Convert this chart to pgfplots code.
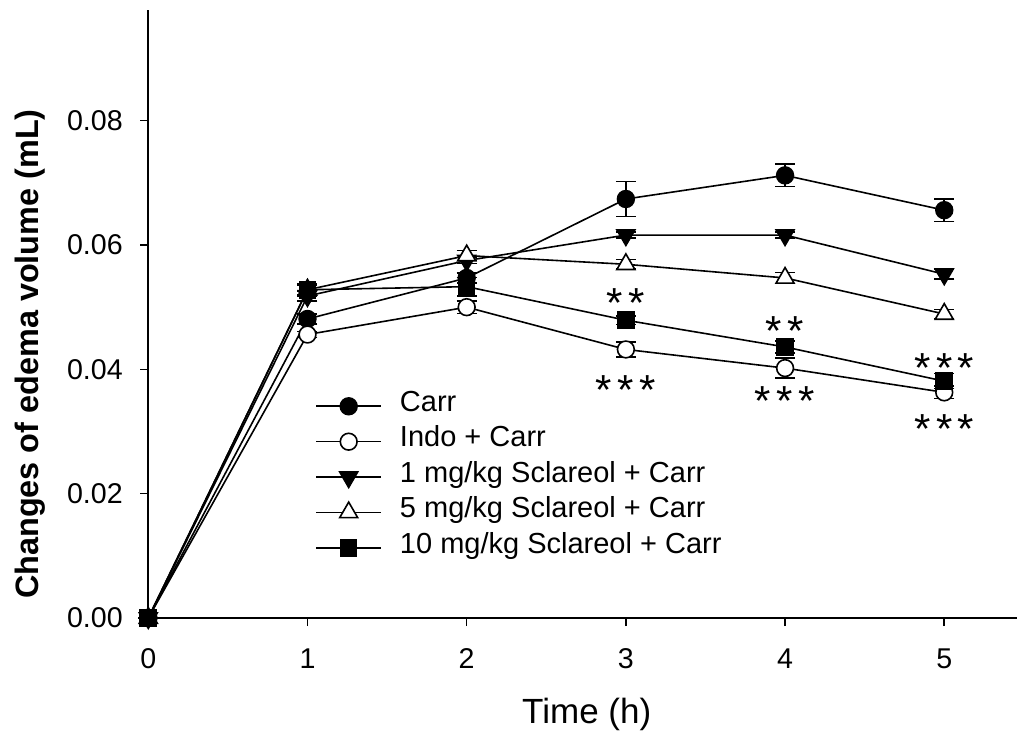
\documentclass[border=0pt]{standalone}
\usepackage{pgfplots}
\pgfplotsset{compat=1.18}
\usepackage{fontspec}
\setmainfont{Liberation Sans}
\begin{document}
\begin{tikzpicture}
\begin{axis}[
  at={(0pt,0pt)}, anchor=south west,
  scale only axis, width=434.35pt, height=304pt,
  xmin=0, xmax=5.457, ymin=0, ymax=0.0978,
  axis x line=bottom, axis y line=left,
  axis line style={-, line width=0.8pt, black},
  tick align=outside, major tick length=4pt,
  tick style={line width=0.8pt, black},
  xtick={0,1,2,3,4,5}, ytick={0,0.02,0.04,0.06,0.08},
  scaled y ticks=false,
  yticklabel style={/pgf/number format/.cd, fixed, fixed zerofill, precision=2, /tikz/.cd},
  /pgf/number format/assume math mode=true,
  xticklabel style={font=\fontsize{14.3}{14.3}\selectfont, inner sep=0pt, yshift=-11pt},
  yticklabel style={font=\fontsize{14.3}{14.3}\selectfont, inner sep=0pt, xshift=-8.6pt},
  clip=false,
  xlabel={Time (h)}, ylabel={Changes of edema volume (mL)},
  every axis x label/.style={at={(axis description cs:0.5047,-0.158)}, anchor=center, font=\fontsize{17.5}{17.5}\selectfont},
  every axis y label/.style={at={(axis description cs:-0.1362,0.434)}, rotate=90, anchor=center, font=\fontsize{16.2}{16.2}\selectfont\bfseries},
  legend cell align=left,
  legend style={draw=none, fill=none, at={(axis description cs:0.1919,0.378)}, anchor=north west,
    font=\fontsize{14.5}{14.5}\selectfont, inner sep=0pt, row sep=0pt, column sep=9pt,
    nodes={inner sep=0pt, text height=11.5pt, text depth=6.2pt}},
  legend image code/.code={\draw[line width=0.8pt, mark repeat=2, mark phase=2] plot coordinates {(0pt,0pt) (16.25pt,0pt) (32.5pt,0pt)};},
  error bars/y dir=both, error bars/y explicit,
  error bars/error bar style={line width=0.8pt, black},
  error bars/error mark options={rotate=90, mark size=5pt, line width=0.8pt, black},
]
% Carr
\addplot[black, line width=0.8pt, mark=*, mark size=4.2pt, mark options={fill=black, solid}]
  table[x=x, y=y, y error=e] {
x y e
0 0 0
1 0.0481 0.0008
2 0.0547 0.0008
3 0.0674 0.0028
4 0.0712 0.0018
5 0.0656 0.0018
};
\addlegendentry{Carr}
% Indo
\addplot[black, line width=0.8pt, mark=*, mark size=4.2pt, mark options={fill=white, solid}]
  table[x=x, y=y, y error=e] {
x y e
0 0 0
1 0.0456 0.0005
2 0.0500 0.0010
3 0.0432 0.0012
4 0.0402 0.0016
5 0.0363 0.0010
};
\addlegendentry{Indo + Carr}
% 1 mg/kg
\addplot[black, line width=0.8pt, mark=triangle*, mark size=5.2pt, mark options={fill=black, rotate=180, solid}]
  table[x=x, y=y, y error=e] {
x y e
0 0 0
1 0.0518 0.0008
2 0.0575 0.0005
3 0.0616 0.0005
4 0.0616 0.0005
5 0.0553 0.0008
};
\addlegendentry{1 mg/kg Sclareol + Carr}
% 5 mg/kg
\addplot[black, line width=0.8pt, mark=triangle*, mark size=5.2pt, mark options={fill=white, solid}]
  table[x=x, y=y, y error=e] {
x y e
0 0 0
1 0.0528 0.0008
2 0.0583 0.0008
3 0.0569 0.0008
4 0.0547 0.0009
5 0.0489 0.0007
};
\addlegendentry{5 mg/kg Sclareol + Carr}
% 10 mg/kg
\addplot[black, line width=0.8pt, mark=square*, mark size=4pt, mark options={fill=black, solid}]
  table[x=x, y=y, y error=e] {
x y e
0 0 0
1 0.0528 0.0010
2 0.0533 0.0015
3 0.0479 0.0007
4 0.0436 0.0010
5 0.0381 0.0012
};
\addlegendentry{10 mg/kg Sclareol + Carr}
% significance marks
\begin{scope}[every node/.style={font=\fontsize{21}{21}\selectfont, anchor=base, yshift=-12.1pt, inner sep=0pt}]
\node at (axis cs:3,0.0523) {*\hspace{2.8pt}*};
\node at (axis cs:3,0.0383) {*\hspace{2.8pt}*\hspace{2.8pt}*};
\node at (axis cs:4,0.0478) {*\hspace{2.8pt}*};
\node at (axis cs:4,0.0364) {*\hspace{2.8pt}*\hspace{2.8pt}*};
\node at (axis cs:5,0.0418) {*\hspace{2.8pt}*\hspace{2.8pt}*};
\node at (axis cs:5,0.0319) {*\hspace{2.8pt}*\hspace{2.8pt}*};
\end{scope}
\end{axis}
\pgfresetboundingbox
\path[use as bounding box] (-74.15pt,-59pt) rectangle (434.35pt,309pt);
\end{tikzpicture}
\end{document}
